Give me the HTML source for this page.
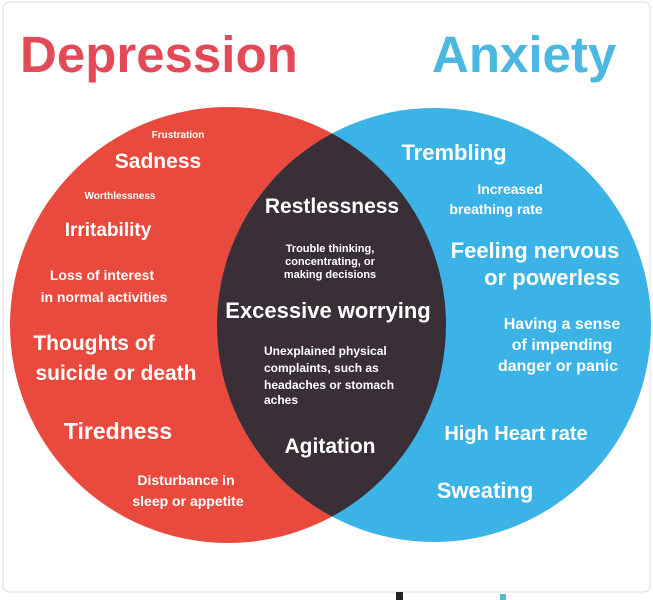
<!DOCTYPE html>
<html><head><style>
body{margin:0;background:#fff}
svg{display:block}
text{font-family:"Liberation Sans",sans-serif;font-weight:bold;fill:#fff}
</style></head><body>
<svg width="653" height="600" viewBox="0 0 653 600">
<rect x="3" y="2" width="647" height="590" rx="6" fill="#fff" stroke="#ddd"/>
<text x="20" y="72" font-size="51" style="fill:#e34a57">Depression</text>
<text x="432" y="72" font-size="51" style="fill:#4bb8e2">Anxiety</text>
<defs><clipPath id="c"><circle cx="228" cy="325" r="218"/></clipPath></defs>
<circle cx="228" cy="325" r="218" fill="#ea4a3d"/>
<circle cx="434" cy="325" r="217" fill="#3cb3e6"/>
<circle cx="434" cy="325" r="217" fill="#3a2f37" clip-path="url(#c)"/>
<g text-anchor="middle">
<text x="178" y="138" font-size="10">Frustration</text>
<text x="158" y="168" font-size="21">Sadness</text>
<text x="120" y="199" font-size="10">Worthlessness</text>
<text x="108" y="236" font-size="19">Irritability</text>
<text x="102" y="280" font-size="14">Loss of interest</text>
<text x="104" y="302" font-size="14">in normal activities</text>
<text x="94" y="350" font-size="21">Thoughts of</text>
<text x="116" y="380" font-size="21">suicide or death</text>
<text x="118" y="439" font-size="23">Tiredness</text>
<text x="186" y="485" font-size="14">Disturbance in</text>
<text x="188" y="506" font-size="14">sleep or appetite</text>
<text x="332" y="213" font-size="21">Restlessness</text>
<text x="330" y="252" font-size="11">Trouble thinking,</text>
<text x="330" y="265" font-size="11">concentrating, or</text>
<text x="330" y="278" font-size="11">making decisions</text>
<text x="328" y="318" font-size="22">Excessive worrying</text>
</g>
<g font-size="12">
<text x="264" y="355" font-size="12">Unexplained physical</text>
<text x="264" y="372" font-size="12">complaints, such as</text>
<text x="264" y="389" font-size="12">headaches or stomach</text>
<text x="264" y="404" font-size="12">aches</text>
</g>
<g text-anchor="middle">
<text x="330" y="453" font-size="21">Agitation</text>
<text x="454" y="160" font-size="22">Trembling</text>
<text x="510" y="194" font-size="14">Increased</text>
<text x="496" y="214" font-size="14">breathing rate</text>
<text x="535" y="258" font-size="22">Feeling nervous</text>
<text x="552" y="285" font-size="22">or powerless</text>
<text x="562" y="329" font-size="16">Having a sense</text>
<text x="562" y="350" font-size="16">of impending</text>
<text x="558" y="371" font-size="16">danger or panic</text>
<text x="516" y="440" font-size="20">High Heart rate</text>
<text x="485" y="498" font-size="22">Sweating</text>
</g>
<rect x="396" y="592" width="7" height="8" fill="#222"/>
<rect x="500" y="594" width="6" height="6" fill="#5bc"/>
</svg>
</body></html>
